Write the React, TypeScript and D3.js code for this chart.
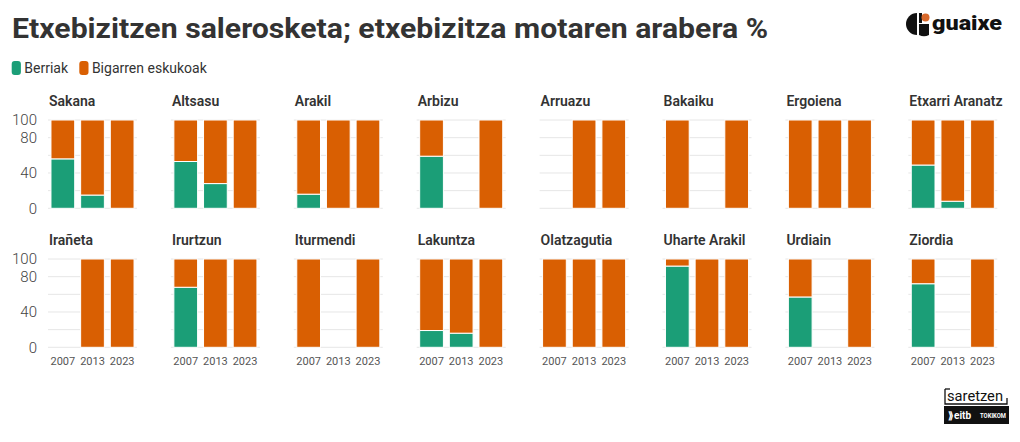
import React from "react";
import * as d3 from "d3";

const municipalities = [
  "Sakana", "Altsasu", "Arakil", "Arbizu", "Arruazu", "Bakaiku", "Ergoiena", "Etxarri Aranatz",
  "Irañeta", "Irurtzun", "Iturmendi", "Lakuntza", "Olatzagutia", "Uharte Arakil", "Urdiain", "Ziordia",
];
const years = ["2007", "2013", "2023"];
// Berriak share (%) per municipality; null = no data
const berriak2007: (number | null)[] = [56, 53, 16, 59, null, 0, 0, 49, null, 68, 0, 19, 0, 92, 57, 72];
const berriak2013: (number | null)[] = [15, 28, 0, null, 0, null, 0, 8, 0, 0, null, 16, 0, 0, null, null];
const berriak2023: (number | null)[] = [0, 0, 0, 0, 0, 0, 0, 0, 0, 0, 0, 0, 0, 0, 0, 0];
const gridTicks = [0, 20, 40, 60, 80, 100];
const labelTicks = [0, 40, 80, 100];
const seriesNames = ["Berriak", "Bigarren eskukoak"];
const colors = ["#1b9e77", "#d95f02"];

const W = 1020;
const H = 442;
const FONT = "Roboto, 'Open Sans', sans-serif";

export default function App() {
  const byYear = [berriak2007, berriak2013, berriak2023];
  const cols = 8;
  const panelW = 89;
  const colX = (i: number) => 48 + i * 122.9;
  const rowTop = (r: number) => 120 + r * 139;
  const plotH = 88.3;

  return (
    <svg width={W} height={H} style={{ position: "absolute", left: 0, top: 0, background: "#fff", fontFamily: FONT }}>
      <text x={12} y={37.5} fontSize={27.5} fontWeight={700} fill="#333" textLength={756} lengthAdjust="spacingAndGlyphs">
        Etxebizitzen salerosketa; etxebizitza motaren arabera %
      </text>
      {/* legend */}
      {seriesNames.map((s, i) => {
        const x = i === 0 ? 11.7 : 79.3;
        return (
          <g key={s}>
            <rect x={x} y={61} width={9.2} height={14} rx={3} fill={colors[i]} />
            <text x={x + 12.6} y={72.8} fontSize={14} fill="#333">{s}</text>
          </g>
        );
      })}
      {/* guaixe logo */}
      <g>
        <path d="M917,13 A11,11 0 0 0 917,35 Z" fill="#111" />
        <path d="M919,24 L929,24 L929,35 A11,11 0 0 1 919,35 Z" fill="#111" />
        <rect x={919} y={13} width={3} height={10} fill="#111" />
        <circle cx={925.5} cy={17.5} r={4} fill="#d9692b" />
        <text x={932} y={30} fontSize={20} fontWeight={900} fill="#111" textLength={70} lengthAdjust="spacingAndGlyphs">guaixe</text>
      </g>
      {municipalities.map((m, idx) => {
        const r = Math.floor(idx / cols);
        const c = idx % cols;
        const x0 = colX(c);
        const top = rowTop(r);
        const x = d3.scaleBand<string>().domain(years).range([x0, x0 + panelW]).paddingInner(0.2).paddingOuter(0.1);
        const y = d3.scaleLinear().domain([0, 100]).range([top + plotH, top]);
        return (
          <g key={m}>
            <text x={x0 + 1} y={top - 14} fontSize={14} fontWeight={600} fill="#333">{m}</text>
            {gridTicks.map((t) => (
              <line key={t} x1={x0} x2={x0 + panelW} y1={y(t)} y2={y(t)} stroke="#e6e6e6" strokeWidth={1} />
            ))}
            {c === 0 && labelTicks.map((t) => (
              <text key={t} x={37} y={y(t)} dy="0.35em" textAnchor="end" fontSize={15} fill="#444" fontWeight={300}>{t}</text>
            ))}
            {years.map((yr, k) => {
              const v = byYear[k][idx];
              if (v === null) return null;
              const bx = x(yr)!;
              const bw = x.bandwidth();
              return (
                <g key={yr}>
                  {v > 0 && (
                    <rect x={bx} y={y(v)} width={bw} height={y(0) - y(v)} fill={colors[0]} stroke="#fff" strokeWidth={1} />
                  )}
                  {v < 100 && (
                    <rect x={bx} y={y(100)} width={bw} height={y(v) - y(100)} fill={colors[1]} stroke="#fff" strokeWidth={1} />
                  )}
                </g>
              );
            })}
            {r === 1 && years.map((yr) => (
              <text key={yr} x={x(yr)! + x.bandwidth() / 2} y={y(0) + 18} textAnchor="middle" fontSize={11} fill="#555">{yr}</text>
            ))}
          </g>
        );
      })}
      {/* saretzen / eitb / tokikom logo */}
      <g>
        <path d="M945,389 L945,404 L1007,404 L1007,398" fill="none" stroke="#111" strokeWidth={1.3} />
        <path d="M945,389 L950,389" stroke="#111" strokeWidth={1.3} />
        <text x={947} y={401} fontSize={14} fill="#111" textLength={56} lengthAdjust="spacingAndGlyphs">saretzen</text>
        <rect x={944} y={406} width={65} height={18} fill="#111" />
        <text x={948} y={419} fontSize={10} fontWeight={700} fill="#fff">⟫eitb</text>
        <text x={980} y={418} fontSize={8} fontWeight={700} fill="#fff" textLength={26} lengthAdjust="spacingAndGlyphs">TOKIKOM</text>
      </g>
    </svg>
  );
}
